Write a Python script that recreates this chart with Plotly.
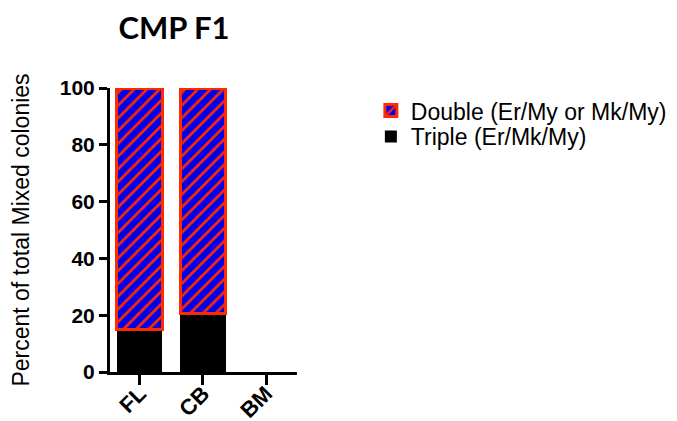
import plotly.graph_objects as go

categories = ["FL", "CB", "BM"]
triple = [14.8, 20.5, 0]
double = [85.2, 79.5, 0]
yticks = [0, 20, 40, 60, 80, 100]

AX_FONT = "Arial, Liberation Sans, sans-serif"

fig = go.Figure()
fig.add_trace(go.Bar(
    x=categories, y=triple, name="Triple (Er/Mk/My)", legend="legend2",
    marker=dict(color="black", line=dict(color="black", width=0)),
))
fig.add_trace(go.Bar(
    x=categories, y=double, name="Double (Er/My or Mk/My)", legend="legend",
    marker=dict(color="#0000ee",
                line=dict(color="#ff2a00", width=[3 if v > 0 else 0 for v in double]),
                pattern=dict(shape="/", fgcolor="#ff2a00", bgcolor="#0000ee",
                             size=9, solidity=0.3, fillmode="replace")),
))

leg_common = dict(xanchor="left", yanchor="top", font=dict(size=23, family=AX_FONT),
                  itemwidth=30, bgcolor="rgba(0,0,0,0)")

# page body has an 8px margin, so the figure is 669x413 placed at (8, 8)
fig.update_layout(
    width=669, height=413,
    barmode="stack", bargap=0.28,
    paper_bgcolor="white", plot_bgcolor="white",
    margin=dict(l=102, r=380, t=80, b=48.5, autoexpand=False),
    font=dict(family=AX_FONT, color="black"),
    title=dict(text="CMP F1", x=166/669, xanchor="center", xref="container",
               y=1 - 20/413, yanchor="middle",
               font=dict(size=31, family="Lato, Open Sans, sans-serif", weight="bold")),
    legend=dict(x=1.395, y=0.996, **leg_common),
    legend2=dict(x=1.395, y=0.905, **leg_common),
    showlegend=True,
)
fig.update_xaxes(
    range=[-0.47, 2.49], showline=True, linecolor="black", linewidth=3,
    ticks="outside", ticklen=10, tickwidth=3, tickcolor="black",
    tickangle=-45, tickfont=dict(size=22, family=AX_FONT, weight="bold"),
    ticklabelstandoff=-13,
    showgrid=False, zeroline=False,
)
fig.update_yaxes(
    range=[0, 100], tickvals=yticks, showline=True, linecolor="black", linewidth=3,
    ticks="outside", ticklen=8, tickwidth=3, tickcolor="black",
    tickfont=dict(size=21, family=AX_FONT, weight="bold"), showgrid=False, zeroline=False,
    title=dict(text="Percent of total Mixed colonies", font=dict(size=23), standoff=30),
)

fig.write_html("out.html")
